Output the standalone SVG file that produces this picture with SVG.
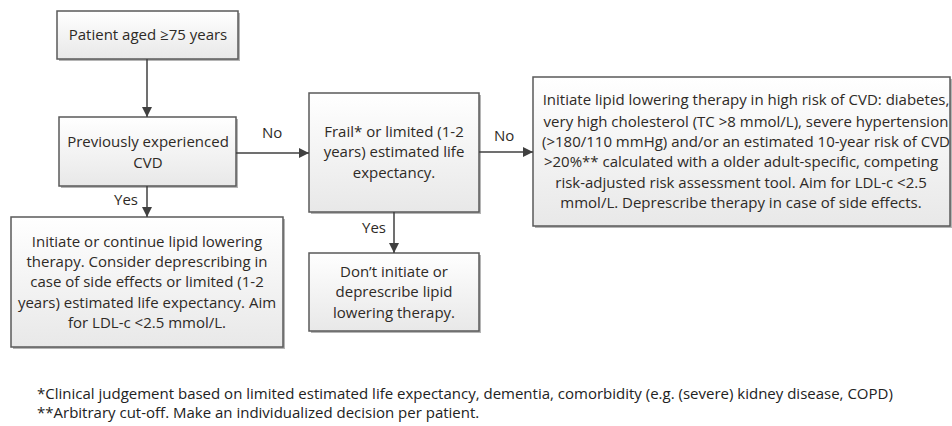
<svg xmlns="http://www.w3.org/2000/svg" width="952" height="426" viewBox="0 0 952 426">
<defs>
<linearGradient id="g" x1="0" y1="0" x2="0" y2="1">
<stop offset="0" stop-color="#ffffff"/>
<stop offset="1" stop-color="#e8e8e8"/>
</linearGradient>
<marker id="ah" viewBox="0 0 10 10" refX="10" refY="5" markerWidth="10" markerHeight="10" markerUnits="userSpaceOnUse" orient="auto">
<path d="M0,0 L10,5 L0,10 z" fill="#404040"/>
</marker>
</defs>
<style>
.sh{fill:#b5b5b5;}
.bx{fill:url(#g);stroke:#5a5a5a;stroke-width:1.5;}
.t{font-family:"Open Sans","Liberation Sans",sans-serif;font-size:15px;fill:#2e2a26;text-anchor:middle;}
.lb{font-family:"Open Sans","Liberation Sans",sans-serif;font-size:15px;fill:#2e2a26;}
.fn{font-family:"Open Sans","Liberation Sans",sans-serif;font-size:15px;fill:#222;}
.c{stroke:#404040;stroke-width:1.5;fill:none;marker-end:url(#ah);}
</style>
<rect width="952" height="426" fill="#ffffff"/>
<g id="n1">
<rect class="sh" x="59" y="13" width="181" height="48"/>
<rect class="bx" x="57" y="11" width="181" height="48"/>
<text class="t" x="148" y="40">Patient aged ≥75 years</text>
</g>
<g id="n2">
<rect class="sh" x="61" y="119" width="177" height="69"/>
<rect class="bx" x="59" y="117" width="177" height="69"/>
<text class="t" x="148" y="147">Previously experienced</text>
<text class="t" x="148" y="168">CVD</text>
</g>
<g id="n3">
<rect class="sh" x="13" y="219" width="272" height="130"/>
<rect class="bx" x="11" y="217" width="272" height="130"/>
<text class="t" x="147" y="247">Initiate or continue lipid lowering</text>
<text class="t" x="147" y="267">therapy. Consider deprescribing in</text>
<text class="t" x="147" y="287">case of side effects or limited (1-2</text>
<text class="t" x="147" y="308">years) estimated life expectancy. Aim</text>
<text class="t" x="147" y="328">for LDL-c &lt;2.5 mmol/L.</text>
</g>
<g id="n4">
<rect class="sh" x="311" y="95" width="170" height="119"/>
<rect class="bx" x="309" y="93" width="170" height="119"/>
<text class="t" x="394" y="137">Frail* or limited (1-2</text>
<text class="t" x="394" y="157">years) estimated life</text>
<text class="t" x="394" y="178">expectancy.</text>
</g>
<g id="n5">
<rect class="sh" x="311" y="255" width="170" height="78"/>
<rect class="bx" x="309" y="253" width="170" height="78"/>
<text class="t" x="394" y="277">Don’t initiate or</text>
<text class="t" x="394" y="297">deprescribe lipid</text>
<text class="t" x="394" y="318">lowering therapy.</text>
</g>
<g id="n6">
<rect class="sh" x="535" y="79" width="417" height="149"/>
<rect class="bx" x="533" y="77" width="417" height="149"/>
<text class="t" x="746" y="105">Initiate lipid lowering therapy in high risk of CVD: diabetes,</text>
<text class="t" x="746" y="127">very high cholesterol (TC &gt;8 mmol/L), severe hypertension</text>
<text class="t" x="746" y="147">(&gt;180/110 mmHg) and/or an estimated 10-year risk of CVD</text>
<text class="t" x="741" y="167">&gt;20%** calculated with a older adult-specific, competing</text>
<text class="t" x="741" y="188">risk-adjusted risk assessment tool. Aim for LDL-c &lt;2.5</text>
<text class="t" x="741" y="208">mmol/L. Deprescribe therapy in case of side effects.</text>
</g>
<g id="connectors">
<path class="c" d="M147,59 V117"/>
<path class="c" d="M147,186 V217"/>
<path class="c" d="M236,153 H309"/>
<path class="c" d="M479,152 H533"/>
<path class="c" d="M394,212 V253"/>
<text class="lb" x="114" y="205">Yes</text>
<text class="lb" x="262" y="138">No</text>
<text class="lb" x="494" y="141">No</text>
<text class="lb" x="362" y="233">Yes</text>
</g>
<g id="footnotes">
<text class="fn" x="37" y="399">*Clinical judgement based on limited estimated life expectancy, dementia, comorbidity (e.g. (severe) kidney disease, COPD)</text>
<text class="fn" x="37" y="418">**Arbitrary cut-off. Make an individualized decision per patient.</text>
</g>
</svg>
